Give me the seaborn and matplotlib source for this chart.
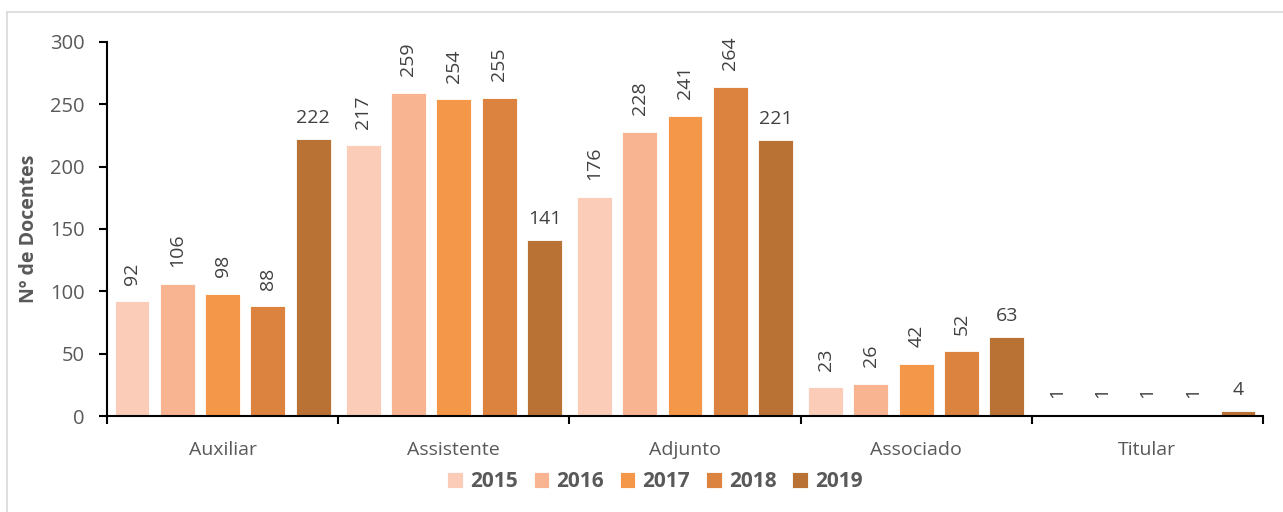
import pandas as pd
import seaborn as sns
import matplotlib.pyplot as plt
from matplotlib.lines import Line2D

categories = ["Auxiliar", "Assistente", "Adjunto", "Associado", "Titular"]
years = ["2015", "2016", "2017", "2018", "2019"]
v2015 = [92, 217, 176, 23, 1]
v2016 = [106, 259, 228, 26, 1]
v2017 = [98, 254, 241, 42, 1]
v2018 = [88, 255, 264, 52, 1]
v2019 = [222, 141, 221, 63, 4]
colors = ["#FBCDB8", "#F8B491", "#F59748", "#DB833F", "#B97134"]

rows = []
for yr, vals in zip(years, [v2015, v2016, v2017, v2018, v2019]):
    for cat, v in zip(categories, vals):
        rows.append({"cargo": cat, "ano": yr, "n": v})
df = pd.DataFrame(rows)

sns.set_style("white")
plt.rcParams["font.family"] = ["Open Sans", "DejaVu Sans"]
gray = "#595959"

fig = plt.figure(figsize=(12.83, 5.12), dpi=100)
ax = fig.add_axes([107 / 1283, 96 / 512, 1156 / 1283, 374 / 512])

sns.barplot(data=df, x="cargo", y="n", hue="ano", palette=colors, saturation=1,
            width=0.98, gap=0.23, edgecolor="white", linewidth=0.6,
            ax=ax, legend=True)

for i, cont in enumerate(ax.containers):
    horiz = i == 4
    ax.bar_label(cont, labels=[str(int(b.get_height())) for b in cont],
                 rotation=0 if horiz else 90, padding=9 if horiz else 12,
                 fontsize=14, color="#404040")

ax.set_ylim(0, 300)
ax.set_xlim(-0.5, 4.5)
ax.set_yticks(range(0, 301, 50))
ax.set_xlabel("")
ax.set_ylabel("Nº de Docentes", fontsize=14, fontweight="bold", color=gray, labelpad=8)
ax.tick_params(axis="y", labelsize=14.5, labelcolor=gray, length=6, width=1.5,
               direction="out", color="black", left=True, pad=10)
ax.tick_params(axis="x", labelsize=14, labelcolor=gray, length=0, pad=18)
ax.set_xticks([-0.5, 0.5, 1.5, 2.5, 3.5, 4.5], minor=True)
ax.tick_params(axis="x", which="minor", length=6, width=1.5, color="black",
               direction="out", bottom=True)
for s in ["top", "right"]:
    ax.spines[s].set_visible(False)
for s in ["left", "bottom"]:
    ax.spines[s].set_color("black")
    ax.spines[s].set_linewidth(1.5)

ax.legend(loc="center", bbox_to_anchor=(0.474, -0.176), ncol=5, frameon=False,
          handlelength=0.75, handleheight=0.75, handletextpad=0.35, columnspacing=0.75,
          prop={"size": 15, "weight": "bold"}, labelcolor=gray)

fig.add_artist(Line2D([7 / 1283, 1], [1 - 12 / 512, 1 - 12 / 512], color="#D9D9D9", lw=1.2))
fig.add_artist(Line2D([7 / 1283, 7 / 1283], [0, 1 - 12 / 512], color="#D9D9D9", lw=1.2))

fig.savefig("out.png", dpi=100)
